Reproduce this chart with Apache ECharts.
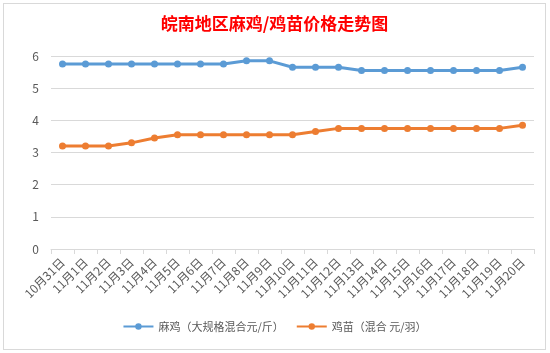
<!DOCTYPE html>
<html>
<head>
<meta charset="utf-8">
<script src="https://cdn.jsdelivr.net/npm/echarts@6/dist/echarts.min.js"></script>
<style>
  html, body { margin: 0; padding: 0; background: #fff; }
  #frame { position: absolute; left: 3px; top: 3px; width: 541px; height: 345px; border: 1px solid #d9d9d9; }
  #main { width: 541px; height: 345px; }
</style>
</head>
<body>
<div id="frame"><div id="main"></div></div>
<script>
// 日期
const dates = ['10月31日', '11月1日', '11月2日', '11月3日', '11月4日', '11月5日', '11月6日',
  '11月7日', '11月8日', '11月9日', '11月10日', '11月11日', '11月12日', '11月13日',
  '11月14日', '11月15日', '11月16日', '11月17日', '11月18日', '11月19日', '11月20日']
// 麻鸡 价格
const majiPrice = [5.75, 5.75, 5.75, 5.75, 5.75, 5.75, 5.75, 5.75, 5.85, 5.85, 5.65,
  5.65, 5.65, 5.55, 5.55, 5.55, 5.55, 5.55, 5.55, 5.55, 5.65]
// 鸡苗 价格
const jimiaoPrice = [3.2, 3.2, 3.2, 3.3, 3.45, 3.55, 3.55, 3.55, 3.55, 3.55, 3.55,
  3.65, 3.75, 3.75, 3.75, 3.75, 3.75, 3.75, 3.75, 3.75, 3.85]
const seriesNames = ['麻鸡（大规格混合元/斤）', '鸡苗（混合 元/羽）']

const chart = echarts.init(document.getElementById('main'))

const font = '"Microsoft YaHei", "Noto Sans CJK SC", sans-serif'

const option = {
  animation: false,
  title: {
    text: '皖南地区麻鸡/鸡苗价格走势图',
    left: 'center',
    top: 6,
    textStyle: {
      color: '#ff0000',
      fontSize: 17,
      fontWeight: 'bold',
      fontFamily: font
    }
  },
  legend: {
    bottom: 12,
    left: 'center',
    itemWidth: 30,
    itemHeight: 8,
    itemGap: 12,
    textStyle: { color: '#595959', fontSize: 11, fontFamily: font },
    data: seriesNames
  },
  grid: {
    left: 47,
    right: 11,
    top: 52,
    bottom: 100
  },
  xAxis: {
    type: 'category',
    boundaryGap: true,
    data: dates,
    axisLine: { lineStyle: { color: '#d9d9d9' } },
    axisTick: { show: true, length: 5, lineStyle: { color: '#d9d9d9' } },
    axisLabel: {
      interval: 0,
      rotate: 45,
      color: '#595959',
      fontSize: 12,
      fontFamily: font,
      margin: 11
    }
  },
  yAxis: {
    type: 'value',
    min: 0,
    max: 6,
    interval: 1,
    axisLine: { show: false },
    axisTick: { show: false },
    axisLabel: { color: '#595959', fontSize: 12, fontFamily: font, margin: 12 },
    splitLine: { lineStyle: { color: '#d9d9d9', width: 1 } }
  },
  series: [
    {
      name: seriesNames[0],
      type: 'line',
      data: majiPrice,
      symbol: 'circle',
      symbolSize: 7,
      itemStyle: { color: '#5b9bd5' },
      lineStyle: { color: '#5b9bd5', width: 3 }
    },
    {
      name: seriesNames[1],
      type: 'line',
      data: jimiaoPrice,
      symbol: 'circle',
      symbolSize: 7,
      itemStyle: { color: '#ed7d31' },
      lineStyle: { color: '#ed7d31', width: 3 }
    }
  ]
}

chart.setOption(option)
</script>
</body>
</html>
